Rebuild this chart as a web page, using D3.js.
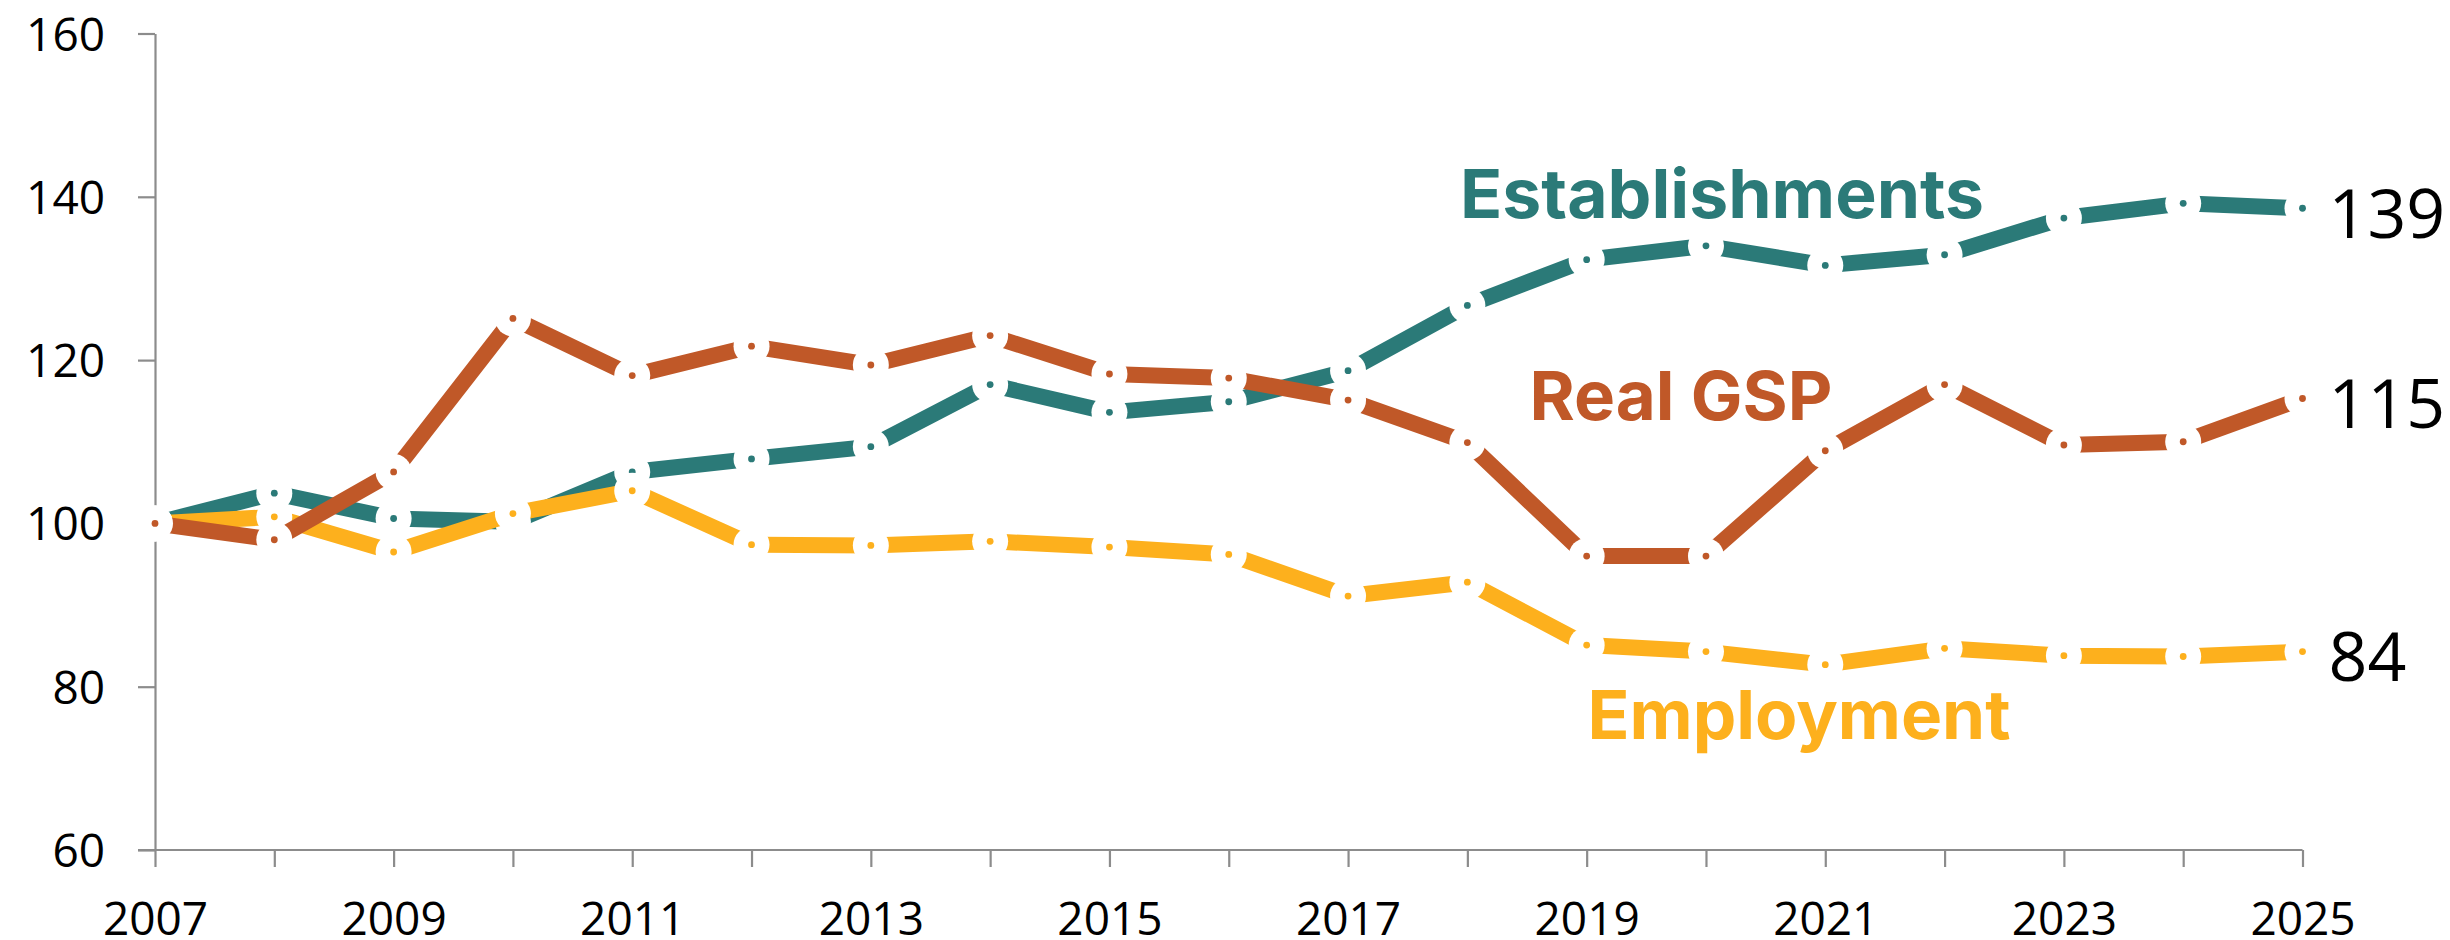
<!DOCTYPE html>
<html>
<head>
<meta charset="utf-8">
<script src="https://cdn.jsdelivr.net/npm/d3@7"></script>
<style>
  body { margin: 0; background: #fff; }
  svg { display: block; }
</style>
</head>
<body>
<svg id="chart" width="2450" height="940"></svg>
<script>
// index values (2007 = 100)
var years = [2007, 2008, 2009, 2010, 2011, 2012, 2013, 2014, 2015, 2016, 2017, 2018, 2019, 2020, 2021, 2022, 2023, 2024, 2025];
var establishments = [100, 103.7, 100.6, 100.2, 106.3, 107.9, 109.4, 117.0, 113.6, 114.9, 118.7, 126.7, 132.3, 134.0, 131.6, 132.9, 137.4, 139.2, 138.6];
var employment = [100, 100.8, 96.5, 101.2, 104.0, 97.4, 97.3, 97.8, 97.1, 96.2, 91.1, 92.8, 85.1, 84.3, 82.7, 84.7, 83.8, 83.7, 84.3];
var realGSP = [100, 98.0, 106.3, 125.1, 118.1, 121.7, 119.4, 123.0, 118.3, 117.8, 115.1, 109.9, 96.0, 96.0, 108.9, 117.0, 109.6, 110.0, 115.3];
var yTicks = [60, 80, 100, 120, 140, 160];
var endLabels = ["139", "84", "115"];
var seriesNames = ["Establishments", "Employment", "Real GSP"];

var colors = ["#2B7A78", "#FDB01D", "#C05828"];

var svg = d3.select("#chart");

var x = d3.scaleLinear().domain([2007, 2025]).range([155, 2302.5]);
var y = d3.scaleLinear().domain([60, 160]).range([850, 33.5]);

// axes
var yAxis = d3.axisLeft(y).tickValues(yTicks).tickSize(17).tickSizeOuter(0).tickPadding(33);
var xAxis = d3.axisBottom(x).tickValues(years).tickSize(17).tickSizeOuter(0)
    .tickFormat(function (d) { return (d - 2007) % 2 === 0 ? d : ""; });

var gy = svg.append("g").attr("transform", "translate(155,0)").call(yAxis);
var gx = svg.append("g").attr("transform", "translate(0,850)").call(xAxis);

[gx, gy].forEach(function (g) {
    g.selectAll("path,line").attr("stroke", "#8C8C8C").attr("stroke-width", 2.2);
    g.selectAll("text")
        .attr("fill", "#000")
        .style("font-family", "'Open Sans', sans-serif")
        .style("font-size", "46px");
});
gx.select(".domain").attr("d", "M138,0H2302.5");
gx.selectAll("text").attr("y", 85).attr("dy", 0);
gy.selectAll("text").attr("dy", "0.36em");

// series, drawn teal -> yellow -> red so the red line sits on top
var allSeries = [establishments, employment, realGSP];

var line = d3.line()
    .x(function (d, i) { return x(years[i]); })
    .y(function (d) { return y(d); });

allSeries.forEach(function (vals, s) {
    var g = svg.append("g").attr("class", "series");

    g.append("path")
        .datum(vals)
        .attr("d", line)
        .attr("fill", "none")
        .attr("stroke", colors[s])
        .attr("stroke-width", 16)
        .attr("stroke-linejoin", "round");

    g.selectAll("circle.halo").data(vals).join("circle")
        .attr("class", "halo")
        .attr("cx", function (d, i) { return x(years[i]); })
        .attr("cy", function (d) { return y(d); })
        .attr("r", 18)
        .attr("fill", "#fff");

    g.selectAll("circle.dot").data(vals).join("circle")
        .attr("class", "dot")
        .attr("cx", function (d, i) { return x(years[i]); })
        .attr("cy", function (d) { return y(d); })
        .attr("r", 3.4)
        .attr("fill", colors[s]);

    // value at the end of the line
    svg.append("text")
        .attr("x", x(2025) + 26)
        .attr("y", y(vals[vals.length - 1]) + 3)
        .attr("dominant-baseline", "central")
        .style("font-family", "'Open Sans', sans-serif")
        .style("font-size", "68px")
        .attr("fill", "#000")
        .text(endLabels[s]);
});

// series names
var nameSpots = [
    { cx: 1722, by: 218, w: 524 },
    { cx: 1799, by: 739, w: 423 },
    { cx: 1681, by: 420, w: 303 }
];

seriesNames.forEach(function (n, s) {
    svg.append("text")
        .attr("x", nameSpots[s].cx)
        .attr("y", nameSpots[s].by)
        .attr("text-anchor", "middle")
        .attr("textLength", nameSpots[s].w)
        .attr("lengthAdjust", "spacingAndGlyphs")
        .style("font-family", "Inter, Roboto, sans-serif")
        .style("font-weight", 700)
        .style("font-size", "68px")
        .attr("fill", colors[s])
        .text(n);
});
</script>
</body>
</html>
